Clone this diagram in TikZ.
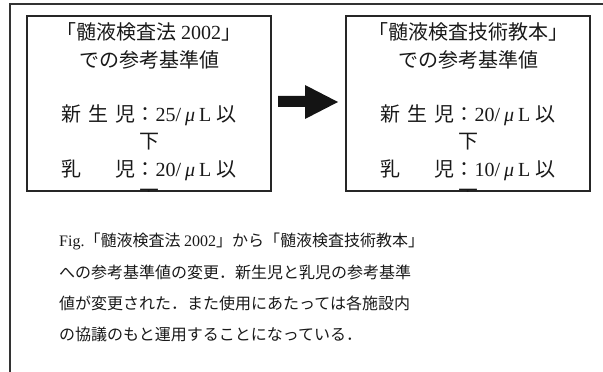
\documentclass[tikz,border=0pt]{standalone}
\usepackage{fontspec}
\setmainfont{Noto Sans CJK JP}
\newfontfamily\lat{Liberation Serif}
\newcommand{\mul}[1]{{\lat #1/\hspace{4pt}{\itshape μ}\hspace{4pt}L}\hspace{5pt}}
\begin{document}
\begin{tikzpicture}[x=1pt,y=1pt,
  frameline/.style={draw=black!80,line width=1.3pt},
  boxstyle/.style={draw=black!85,line width=1.4pt,minimum width=244pt,minimum height=175pt,inner sep=0pt},
  boxtext/.style={anchor=base,inner sep=0pt,font=\fontsize{20}{24}\selectfont,text=black!90},
  captext/.style={anchor=base west,inner sep=0pt,font=\fontsize{16}{20}\selectfont,text=black!90}]
\useasboundingbox (0,0) rectangle (603,372);
% outer frame (top and left edges only)
\coordinate (ftl) at (10,368);
\coordinate (ftr) at (603,368);
\coordinate (fbl) at (10,0);
\draw[frameline] (ftr) -- (ftl) -- (fbl);
% boxes
\node[boxstyle] (L) at (149,268.5) {};
\node[boxstyle] (R) at (468,268.5) {};
% left box text
\node[boxtext] (l1) at (149,332.4) {「髄液検査法 {\lat 2002}」};
\node[boxtext] (l2) at (149,304.4) {での参考基準値};
\node[boxtext] (l3) at (149,250.4) {新\hspace{7pt}生\hspace{7pt}児：\mul{25}以};
\node[boxtext] (l4) at (149,223.4) {下};
\node[boxtext] (l5) at (149,195.4) {乳\hspace{34pt}児：\mul{20}以};
% right box text
\node[boxtext] (r1) at (468,332.4) {「髄液検査技術教本」};
\node[boxtext] (r2) at (468,304.4) {での参考基準値};
\node[boxtext] (r3) at (468,250.4) {新\hspace{7pt}生\hspace{7pt}児：\mul{20}以};
\node[boxtext] (r4) at (468,223.4) {下};
\node[boxtext] (r5) at (468,195.4) {乳\hspace{34pt}児：\mul{10}以};
% clipped overflow lines
\begin{scope}
\clip (L.south west) rectangle (L.north east);
\node[boxtext] (l6) at (149,167.4) {下};
\end{scope}
\begin{scope}
\clip (R.south west) rectangle (R.north east);
\node[boxtext] (r6) at (468,167.4) {下};
\end{scope}
% block arrow
\fill[black!92] (278,265) -- (305,265) -- (305,253) -- (338,270) -- (305,287) -- (305,276) -- (278,276) -- cycle;
% caption
\node[captext] (c1) at (59,125) {{\lat Fig.}「髄液検査法 {\lat 2002}」から「髄液検査技術教本」};
\node[captext] (c2) at (59,93) {への参考基準値の変更．新生児と乳児の参考基準};
\node[captext] (c3) at (59,62) {値が変更された．また使用にあたっては各施設内};
\node[captext] (c4) at (59,31) {の協議のもと運用することになっている．};
\end{tikzpicture}
\end{document}
